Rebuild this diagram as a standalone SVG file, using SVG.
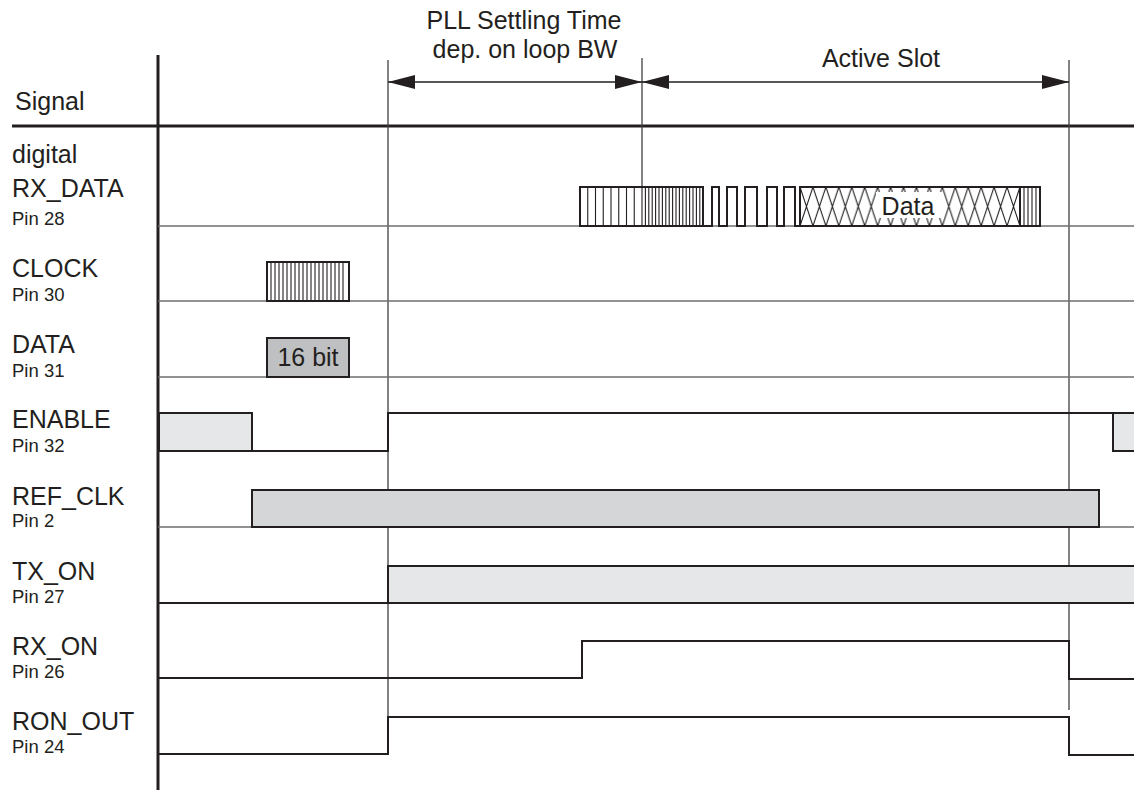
<svg xmlns="http://www.w3.org/2000/svg" width="1134" height="791" viewBox="0 0 1134 791">
<style>
text{font-family:"Liberation Sans",Arial,Helvetica,sans-serif;fill:#231f20}
.lbl{font-size:25px}
.pin{font-size:18.5px}
.mid{text-anchor:middle}
.sig{fill:none;stroke:#231f20;stroke-width:2}
.box{stroke:#231f20;stroke-width:2}
.row{stroke:#6d6e71;stroke-width:1.5;fill:none}
.guide{stroke:#414042;stroke-width:1.3;fill:none}
.str{stroke:#231f20;stroke-width:1.1;fill:none}
</style>
<defs>
<marker id="ah" markerUnits="userSpaceOnUse" viewBox="0 0 27 14" refX="27" refY="7" markerWidth="27" markerHeight="14" orient="auto-start-reverse">
<path d="M0 0L27 7L0 14z" fill="#231f20"/>
</marker>
<pattern id="xh" patternUnits="userSpaceOnUse" x="800" y="187" width="12.941" height="39">
<path d="M0 0L12.941 39M12.941 0L0 39" stroke="#231f20" stroke-width="1.1" fill="none"/>
</pattern>
</defs>

<g id="frame">
<line x1="158" y1="55" x2="158" y2="790" stroke="#231f20" stroke-width="3"/>
<line x1="12" y1="126" x2="1134" y2="126" stroke="#231f20" stroke-width="3"/>
<text class="lbl" x="15" y="110">Signal</text>
</g>

<g id="guides">
<line class="guide" x1="388" y1="60" x2="388" y2="717"/>
<line class="guide" x1="642" y1="58" x2="642" y2="226"/>
<line class="guide" x1="1069" y1="60" x2="1069" y2="710"/>
</g>

<g id="connectors">
<line x1="388" y1="82" x2="642" y2="82" stroke="#231f20" stroke-width="1.5" marker-start="url(#ah)" marker-end="url(#ah)"/>
<line x1="642" y1="82" x2="1069" y2="82" stroke="#231f20" stroke-width="1.5" marker-start="url(#ah)" marker-end="url(#ah)"/>
</g>

<g id="dim-labels">
<text class="lbl mid" x="524" y="29">PLL Settling Time</text>
<text class="lbl mid" x="525" y="58">dep. on loop BW</text>
<text class="lbl mid" x="881" y="67">Active Slot</text>
</g>

<g id="rx-data">
<text class="lbl" x="12" y="163">digital</text>
<text class="lbl" x="12" y="197">RX_DATA</text>
<text class="pin" x="12" y="225">Pin 28</text>
<line class="row" x1="158" y1="226" x2="1134" y2="226"/>
<rect x="580" y="187" width="123" height="39" fill="#fff" class="box"/>
<path class="str" d="M587.75 187v39m7.75-39v39m7.75-39v39m7.75-39v39m7.75-39v39m7.75-39v39m7.75-39v39m7.75-39v39"/>
<path class="str" d="M645.4 187v39m3.4-39v39m3.4-39v39m3.4-39v39m3.4-39v39m3.4-39v39m3.4-39v39m3.4-39v39m3.4-39v39m3.4-39v39m3.4-39v39m3.4-39v39m3.4-39v39m3.4-39v39m3.4-39v39m3.4-39v39m3.4-39v39"/>
<path class="sig" d="M703 226H712V187H719V226H727V187H737V226H745V187H757V226H767V187H777V226H784V187H795V226H800"/>
<rect x="800" y="187" width="220" height="39" fill="url(#xh)" class="box"/>
<rect x="876" y="192" width="66" height="26" fill="#fff"/>
<text class="lbl mid" x="908" y="215">Data</text>
<rect x="1020" y="187" width="20" height="39" fill="#fff" class="box"/>
<path class="str" d="M1024 187v39m4-39v39m4-39v39m4-39v39"/>
</g>

<g id="clock">
<text class="lbl" x="12" y="277">CLOCK</text>
<text class="pin" x="12" y="301">Pin 30</text>
<line class="row" x1="158" y1="301" x2="1134" y2="301"/>
<rect x="267" y="262" width="82" height="39" fill="#fff" class="box"/>
<path class="str" d="M271 262v39m4-39v39m4-39v39m4-39v39m4-39v39m4-39v39m4-39v39m4-39v39m4-39v39m4-39v39m4-39v39m4-39v39m4-39v39m4-39v39m4-39v39m4-39v39m4-39v39m4-39v39m4-39v39"/>
</g>

<g id="data">
<text class="lbl" x="12" y="353">DATA</text>
<text class="pin" x="12" y="377">Pin 31</text>
<line class="row" x1="158" y1="377" x2="1134" y2="377"/>
<rect x="267" y="338" width="82" height="39" fill="#bfc0c2" class="box"/>
<text class="lbl mid" x="308" y="366">16 bit</text>
</g>

<g id="enable">
<text class="lbl" x="12" y="428">ENABLE</text>
<text class="pin" x="12" y="452">Pin 32</text>
<rect x="159" y="413" width="93" height="38" fill="#e6e7e8" class="box"/>
<path class="sig" d="M252 451H388V413H1113"/>
<path d="M1136 413H1113V451H1136" fill="#e6e7e8" class="box"/>
</g>

<g id="ref-clk">
<text class="lbl" x="12" y="505">REF_CLK</text>
<text class="pin" x="12" y="527">Pin 2</text>
<line class="row" x1="158" y1="527" x2="252" y2="527"/>
<line class="row" x1="1099" y1="527" x2="1134" y2="527"/>
<rect x="252" y="490" width="847" height="37" fill="#d5d6d8" class="box"/>
</g>

<g id="tx-on">
<text class="lbl" x="12" y="580">TX_ON</text>
<text class="pin" x="12" y="603">Pin 27</text>
<line class="sig" x1="158" y1="603" x2="388" y2="603"/>
<path d="M1136 566H388V603H1136" fill="#e6e7e8" class="box"/>
</g>

<g id="rx-on">
<text class="lbl" x="12" y="655">RX_ON</text>
<text class="pin" x="12" y="678">Pin 26</text>
<path class="sig" d="M158 678H582V641H1069V679H1134"/>
</g>

<g id="ron-out">
<text class="lbl" x="12" y="730">RON_OUT</text>
<text class="pin" x="12" y="753">Pin 24</text>
<path class="sig" d="M158 754H388V717H1069V755H1134"/>
</g>
</svg>
